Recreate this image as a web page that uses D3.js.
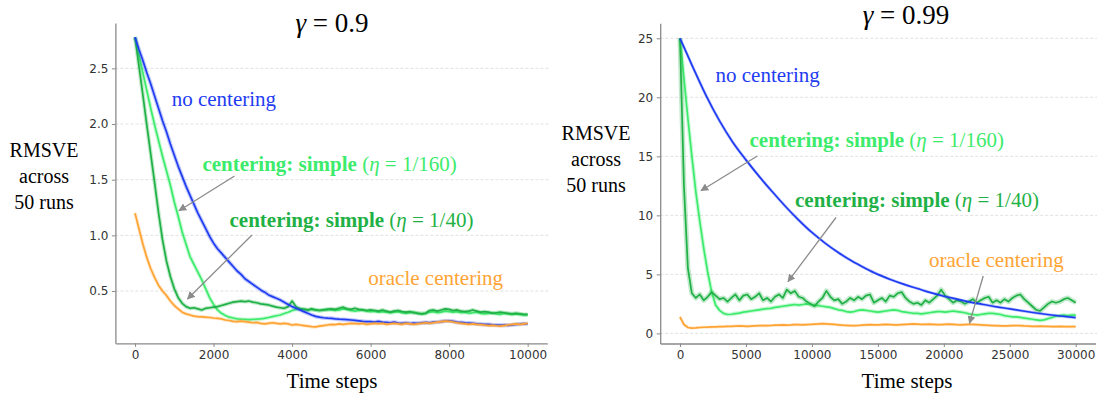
<!DOCTYPE html>
<html>
<head>
<meta charset="utf-8">
<script src="https://cdn.jsdelivr.net/npm/d3@7"></script>
<style>
  body { margin: 0; background: #fff; }
  svg { display: block; }
</style>
</head>
<body>
<svg id="chart" width="1097" height="394"></svg>
<script>
// ---------- data: gamma = 0.9 (time steps 0..10000, every 100) ----------
const stepsLeft = d3.range(0, 10001, 100);

const noCenteringLeft = [
  2.78, 2.67, 2.57, 2.46, 2.36, 2.25, 2.14, 2.03, 1.93, 1.82,
  1.72, 1.62, 1.53, 1.44, 1.36, 1.28, 1.20, 1.13, 1.06, 0.99,
  0.93, 0.88, 0.84, 0.80, 0.76, 0.72, 0.68, 0.65, 0.61, 0.585,
  0.56, 0.535, 0.51, 0.49, 0.465, 0.45, 0.435, 0.42, 0.40, 0.38,
  0.36, 0.345, 0.33, 0.315, 0.30, 0.285, 0.272, 0.265, 0.26, 0.257,
  0.255, 0.25, 0.247, 0.245, 0.243, 0.24, 0.236, 0.232, 0.228, 0.225,
  0.225, 0.222, 0.227, 0.22, 0.218, 0.215, 0.22, 0.213, 0.21, 0.215,
  0.208, 0.212, 0.21, 0.215, 0.218, 0.215, 0.22, 0.222, 0.226, 0.23,
  0.232, 0.228, 0.22, 0.218, 0.215, 0.213, 0.21, 0.206, 0.203, 0.2,
  0.2, 0.197, 0.195, 0.193, 0.195, 0.192, 0.196, 0.2, 0.203, 0.207,
  0.205
];

const simple160Left = [
  2.78, 2.62, 2.46, 2.30, 2.14, 1.99, 1.85, 1.71, 1.58, 1.45,
  1.30, 1.17, 1.03, 0.92, 0.81, 0.74, 0.67, 0.60, 0.52, 0.44,
  0.38, 0.33, 0.30, 0.28, 0.265, 0.258, 0.25, 0.247, 0.245, 0.243,
  0.245, 0.247, 0.25, 0.255, 0.262, 0.27, 0.278, 0.285, 0.298, 0.31,
  0.325, 0.335, 0.34, 0.338, 0.33, 0.335, 0.33, 0.325, 0.33, 0.335,
  0.33, 0.325, 0.33, 0.34, 0.335, 0.325, 0.32, 0.325, 0.33, 0.32,
  0.315, 0.32, 0.31, 0.315, 0.31, 0.305, 0.31, 0.315, 0.305, 0.3,
  0.305, 0.31, 0.3, 0.295, 0.3, 0.31, 0.315, 0.305, 0.31, 0.32,
  0.315, 0.31, 0.315, 0.305, 0.31, 0.3, 0.305, 0.31, 0.3, 0.295,
  0.3, 0.305, 0.295, 0.29, 0.3, 0.295, 0.29, 0.295, 0.29, 0.285,
  0.285
];

const simple40Left = [
  2.78, 2.52, 2.26, 1.99, 1.73, 1.47, 1.20, 0.96, 0.77, 0.63,
  0.52, 0.44, 0.39, 0.36, 0.345, 0.35, 0.34, 0.33, 0.345, 0.35,
  0.355, 0.36, 0.37, 0.38, 0.39, 0.4, 0.405, 0.41, 0.405, 0.41,
  0.4, 0.395, 0.385, 0.38, 0.375, 0.365, 0.355, 0.35, 0.345, 0.36,
  0.41, 0.36, 0.34, 0.335, 0.33, 0.34, 0.33, 0.325, 0.33, 0.335,
  0.34, 0.335, 0.345, 0.355, 0.34, 0.335, 0.345, 0.335, 0.33, 0.325,
  0.33, 0.325, 0.32, 0.33, 0.32, 0.31, 0.32, 0.325, 0.315, 0.31,
  0.315, 0.305, 0.3, 0.295, 0.3, 0.325, 0.33, 0.32, 0.33, 0.34,
  0.335, 0.325, 0.33, 0.32, 0.315, 0.32, 0.33, 0.32, 0.31, 0.315,
  0.31, 0.3, 0.305, 0.31, 0.305, 0.3, 0.295, 0.3, 0.295, 0.29,
  0.29
];

const oracleLeft = [
  1.20, 1.06, 0.92, 0.80, 0.70, 0.62, 0.55, 0.50, 0.46, 0.41,
  0.37, 0.34, 0.31, 0.295, 0.285, 0.275, 0.27, 0.268, 0.265, 0.262,
  0.258, 0.255, 0.25, 0.24, 0.235, 0.228, 0.225, 0.23, 0.225, 0.22,
  0.215, 0.218, 0.21, 0.205, 0.21, 0.215, 0.21, 0.205, 0.21, 0.205,
  0.195, 0.2, 0.195, 0.19, 0.185, 0.18, 0.178, 0.185, 0.19, 0.195,
  0.2, 0.198, 0.205, 0.2, 0.205, 0.21, 0.208, 0.205, 0.21, 0.2,
  0.205, 0.21, 0.205, 0.21, 0.2, 0.205, 0.21, 0.205, 0.2, 0.21,
  0.205, 0.2, 0.205, 0.21, 0.215, 0.21, 0.215, 0.22, 0.225, 0.23,
  0.228, 0.222, 0.215, 0.21, 0.205, 0.2, 0.205, 0.2, 0.198, 0.195,
  0.19, 0.192, 0.188, 0.185, 0.19, 0.195, 0.2, 0.205, 0.2, 0.205,
  0.21
];

// ---------- data: gamma = 0.99 (time steps 0..30000) ----------
const stepsRight = d3.range(0, 30001, 300);
const stepsRightCoarse = d3.range(0, 30001, 1000);

const noCenteringRight = [
  25, 22.5, 20.1, 18.0, 16.2, 14.7, 13.3, 12.0, 10.75, 9.6,
  8.55, 7.65, 6.85, 6.15, 5.55, 5.0, 4.55, 4.15, 3.8, 3.45,
  3.15, 2.9, 2.65, 2.45, 2.25, 2.08, 1.9, 1.73, 1.58, 1.45,
  1.33
];

const simple160Right = [
  25, 21.6, 18.2, 15.0, 12.0, 9.5, 7.2, 5.2, 3.5, 2.4,
  1.95, 1.7, 1.6, 1.62, 1.68, 1.72, 1.8, 1.85, 1.9, 1.95,
  2.0, 2.05, 2.1, 2.12, 2.2, 2.25, 2.3, 2.35, 2.4, 2.45,
  2.4, 2.45, 2.5, 2.45, 2.4, 2.35, 2.3, 2.25, 2.2, 2.1,
  2.0, 1.95, 1.85, 1.8, 1.85, 1.95, 2.0, 1.95, 1.9, 1.85,
  1.8, 1.85, 1.9, 1.95, 2.0, 1.95, 1.85, 1.8, 1.75, 1.7,
  1.7, 1.65, 1.7, 1.75, 1.8, 1.85, 1.85, 1.8, 1.85, 1.9,
  1.85, 1.8, 1.75, 1.65, 1.6, 1.55, 1.6, 1.65, 1.7, 1.7,
  1.65, 1.6, 1.5, 1.45, 1.4, 1.4, 1.35, 1.3, 1.25, 1.2,
  1.15, 1.1, 1.15, 1.25, 1.35, 1.45, 1.5, 1.55, 1.5, 1.55,
  1.55
];

const simple40Right = [
  25, 12.5, 5.5, 3.4, 3.0, 3.3, 2.8, 3.1, 3.5, 3.2,
  2.9, 3.0, 2.7, 3.0, 3.3, 2.8, 3.2, 3.3, 2.9, 3.1,
  3.4, 2.8, 3.0, 2.7, 3.1, 3.3, 3.0, 3.7, 3.4, 3.6,
  3.1, 3.0, 2.7, 2.5, 2.3, 2.7, 3.0, 3.6, 3.1, 2.8,
  2.9, 2.5, 2.7, 3.0, 2.8, 3.1, 2.9, 3.2, 3.3, 2.6,
  2.8, 3.0, 2.7, 3.2, 3.1, 3.4, 3.5, 3.0, 2.7, 2.5,
  2.6, 2.4, 2.8, 2.6, 2.9, 3.2, 3.7, 3.2, 2.9, 2.6,
  2.8, 2.7, 2.5, 2.7, 2.9, 2.6, 2.8, 3.0, 3.1, 2.6,
  2.8, 2.6, 2.9, 2.7, 3.0, 3.2, 3.3, 2.9, 2.6, 2.3,
  2.0, 1.9, 2.2, 2.5, 2.7, 2.6, 2.7, 2.9, 3.0, 2.8,
  2.6
];

const oracleRight = [
  1.4, 0.75, 0.5, 0.45, 0.47, 0.5, 0.52, 0.53, 0.55, 0.55,
  0.57, 0.58, 0.6, 0.6, 0.62, 0.63, 0.62, 0.6, 0.62, 0.64,
  0.65, 0.66, 0.65, 0.67, 0.7, 0.7, 0.72, 0.7, 0.72, 0.75,
  0.74, 0.73, 0.75, 0.76, 0.78, 0.8, 0.82, 0.8, 0.78, 0.76,
  0.73, 0.7, 0.68, 0.66, 0.65, 0.67, 0.7, 0.72, 0.74, 0.73,
  0.72, 0.74, 0.76, 0.75, 0.73, 0.72, 0.74, 0.76, 0.78, 0.8,
  0.78, 0.76, 0.77, 0.78, 0.76, 0.74, 0.75, 0.77, 0.78, 0.76,
  0.74, 0.73, 0.75, 0.77, 0.76, 0.74, 0.72, 0.7, 0.68, 0.66,
  0.65, 0.64, 0.63, 0.64, 0.66, 0.67, 0.65, 0.63, 0.62, 0.6,
  0.6, 0.61, 0.6, 0.59, 0.58, 0.58, 0.59, 0.58, 0.57, 0.57,
  0.57
];

// ---------- tick labels ----------
const xTicksLeft = [0, 2000, 4000, 6000, 8000, 10000];
const yTicksLeft = [0.5, 1.0, 1.5, 2.0, 2.5];
const xTicksRight = [0, 5000, 10000, 15000, 20000, 25000, 30000];
const yTicksRight = [0, 5, 10, 15, 20, 25];

// ---------- styling ----------
const COLORS = {
  none: "#1f3cf2",
  simple160: "#3deb6c",
  simple40: "#1fb145",
  oracle: "#ffa434",
  arrow: "#8c8c8c"
};
const SERIF = "'Liberation Serif', 'Times New Roman', serif";
const SANS = "'DejaVu Sans', sans-serif";

const svg = d3.select("#chart");

const defs = svg.append("defs");
defs.append("marker")
  .attr("id", "arrowhead")
  .attr("viewBox", "0 0 10 10")
  .attr("refX", 9).attr("refY", 5)
  .attr("markerWidth", 8).attr("markerHeight", 8)
  .attr("markerUnits", "userSpaceOnUse")
  .attr("orient", "auto")
  .append("path")
  .attr("d", "M0,0 L10,5 L0,10 z")
  .attr("fill", COLORS.arrow);

function drawPanel(p) {
  const g = svg.append("g");
  const x = d3.scaleLinear().domain(p.xDomain).range([p.left, p.right]);
  const y = d3.scaleLinear().domain(p.yDomain).range([p.bottom, p.top]);

  // dashed horizontal grid
  g.append("g").selectAll("line").data(p.yTicks).join("line")
    .attr("x1", p.left).attr("x2", p.right + 2)
    .attr("y1", d => y(d)).attr("y2", d => y(d))
    .attr("stroke", "#d9d9d9").attr("stroke-width", 0.8)
    .attr("stroke-dasharray", "3,2");

  // axes (left and bottom spines only)
  const yAxis = g.append("g")
    .attr("transform", `translate(${p.left},0)`)
    .call(d3.axisLeft(y).tickValues(p.yTicks).tickFormat(p.yFormat)
      .tickSize(3.5).tickSizeOuter(0).tickPadding(3.5));
  const xAxis = g.append("g")
    .attr("transform", `translate(0,${p.bottom})`)
    .call(d3.axisBottom(x).tickValues(p.xTicks).tickFormat(d3.format("d"))
      .tickSize(3.5).tickSizeOuter(0).tickPadding(3.5));
  [yAxis, xAxis].forEach(a => {
    a.select(".domain").attr("stroke", "#8a8a8a").attr("stroke-width", 1.3);
    a.selectAll(".tick line").attr("stroke", "#8a8a8a").attr("stroke-width", 1);
    a.selectAll(".tick text").attr("fill", "#333").attr("font-family", SANS).attr("font-size", 12);
  });

  // series: translucent band under each line
  const clipId = "clip" + p.id;
  defs.append("clipPath").attr("id", clipId).append("rect")
    .attr("x", p.left).attr("y", p.top).attr("width", p.right - p.left).attr("height", p.bottom - p.top);
  const plot = g.append("g").attr("clip-path", `url(#${clipId})`);
  p.series.forEach(s => {
    const pts = s.steps.map((t, i) => [t, s.values[i]]);
    const line = d3.line().x(d => x(d[0])).y(d => y(d[1]))
      .curve(s.smooth ? d3.curveMonotoneX : d3.curveLinear);
    plot.append("path").attr("d", line(pts))
      .attr("fill", "none").attr("stroke", s.color)
      .attr("stroke-width", s.band).attr("stroke-opacity", 0.28)
      .attr("stroke-linejoin", "round");
    plot.append("path").attr("d", line(pts))
      .attr("fill", "none").attr("stroke", s.color)
      .attr("stroke-width", 1.7).attr("stroke-linejoin", "round");
  });

  // title
  const title = g.append("text")
    .attr("x", p.titleX).attr("y", p.titleY)
    .attr("text-anchor", "middle")
    .attr("font-family", SERIF).attr("font-size", 27).attr("fill", "#000");
  title.append("tspan").attr("font-style", "italic").text("γ");
  title.append("tspan").text(" = " + p.gamma);

  // y label (three lines)
  const yl = g.append("text")
    .attr("text-anchor", "middle")
    .attr("font-family", SERIF).attr("font-size", 20).attr("fill", "#000");
  ["RMSVE", "across", "50 runs"].forEach((t, i) => {
    yl.append("tspan").attr("x", p.yLabelX).attr("y", p.yLabelY[i]).text(t);
  });

  // x label
  g.append("text")
    .attr("x", p.xLabelX).attr("y", 388)
    .attr("text-anchor", "middle")
    .attr("font-family", SERIF).attr("font-size", 21).attr("fill", "#000")
    .text("Time steps");

  // annotations
  p.labels.forEach(l => {
    const t = g.append("text")
      .attr("x", l.x).attr("y", l.y)
      .attr("font-family", SERIF).attr("font-size", 21).attr("fill", l.color);
    if (l.eta) {
      t.append("tspan").attr("font-weight", "bold").text("centering: simple ");
      t.append("tspan").text("(");
      t.append("tspan").attr("font-style", "italic").text("η");
      t.append("tspan").text(" = " + l.eta + ")");
    } else {
      t.text(l.text);
    }
  });
  p.arrows.forEach(a => {
    g.append("line")
      .attr("x1", a[0]).attr("y1", a[1]).attr("x2", a[2]).attr("y2", a[3])
      .attr("stroke", COLORS.arrow).attr("stroke-width", 1.3)
      .attr("marker-end", "url(#arrowhead)");
  });
}

drawPanel({
  id: "L",
  gamma: "0.9",
  xDomain: [-500, 10500], yDomain: [0.0305, 2.9075],
  left: 115.4, right: 547.3, top: 23, bottom: 343.3,
  xTicks: xTicksLeft, yTicks: yTicksLeft, yFormat: d3.format(".1f"),
  titleX: 332, titleY: 32,
  yLabelX: 44, yLabelY: [157, 183, 208.5],
  xLabelX: 332,
  series: [
    { steps: stepsLeft, values: simple160Left, color: COLORS.simple160, band: 4 },
    { steps: stepsLeft, values: simple40Left, color: COLORS.simple40, band: 4 },
    { steps: stepsLeft, values: noCenteringLeft, color: COLORS.none, band: 4 },
    { steps: stepsLeft, values: oracleLeft, color: COLORS.oracle, band: 3.5 }
  ],
  labels: [
    { x: 171.7, y: 106, color: COLORS.none, text: "no centering" },
    { x: 202.4, y: 170.5, color: COLORS.simple160, eta: "1/160" },
    { x: 229.5, y: 226.7, color: COLORS.simple40, eta: "1/40" },
    { x: 368.3, y: 285, color: COLORS.oracle, text: "oracle centering" }
  ],
  arrows: [
    [234.5, 176, 179, 210.7],
    [252, 235, 187.5, 299]
  ]
});

drawPanel({
  id: "R",
  gamma: "0.99",
  xDomain: [-1500, 31500], yDomain: [-0.856, 26.27],
  left: 660.2, right: 1095.5, top: 23.3, bottom: 343.5,
  xTicks: xTicksRight, yTicks: yTicksRight, yFormat: d3.format("d"),
  titleX: 906, titleY: 23.5,
  yLabelX: 596, yLabelY: [139.5, 165.7, 191.7],
  xLabelX: 907,
  series: [
    { steps: stepsRight, values: simple160Right, color: COLORS.simple160, band: 4 },
    { steps: stepsRight, values: simple40Right, color: COLORS.simple40, band: 5 },
    { steps: stepsRightCoarse, values: noCenteringRight, color: COLORS.none, band: 3, smooth: true },
    { steps: stepsRight, values: oracleRight, color: COLORS.oracle, band: 3 }
  ],
  labels: [
    { x: 715.5, y: 81.7, color: COLORS.none, text: "no centering" },
    { x: 749.5, y: 147, color: COLORS.simple160, eta: "1/160" },
    { x: 795, y: 206.7, color: COLORS.simple40, eta: "1/40" },
    { x: 929, y: 266.7, color: COLORS.oracle, text: "oracle centering" }
  ],
  arrows: [
    [757.3, 156, 701, 190.7],
    [836, 217.5, 788, 281.7],
    [983.2, 276, 969.5, 323.3]
  ]
});
</script>
</body>
</html>
